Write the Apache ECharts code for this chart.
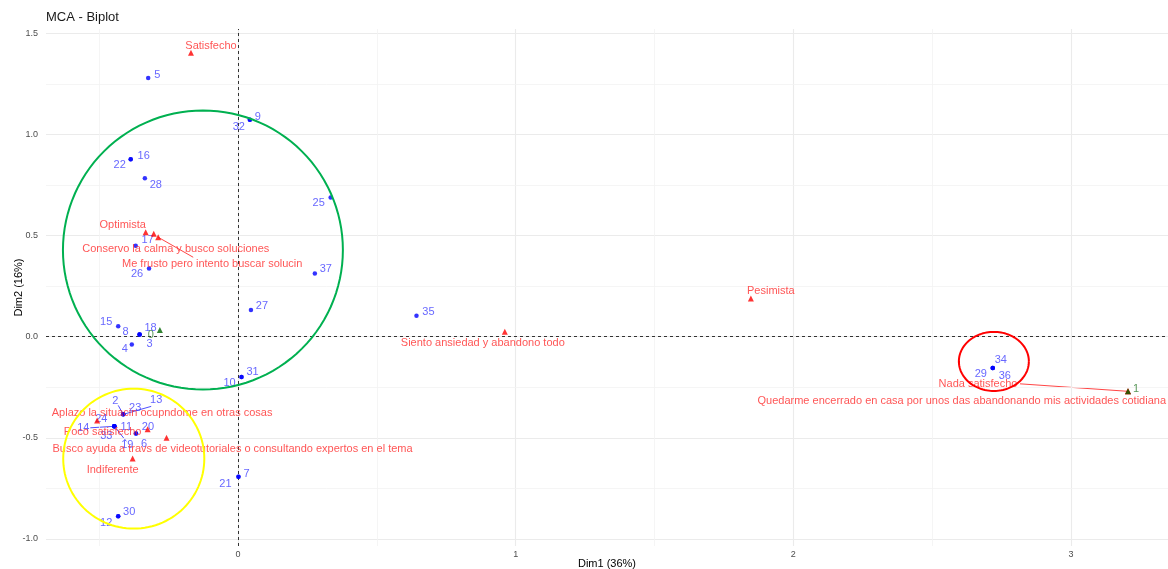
<!DOCTYPE html>
<html>
<head>
<meta charset="utf-8">
<script src="https://cdn.jsdelivr.net/npm/echarts@6/dist/echarts.min.js"></script>
<style>
html,body{margin:0;padding:0;background:#fff;}
#chart{width:1168px;height:569px;}
</style>
</head>
<body>
<div id="chart"></div>
<script>
// ---------- DATA ----------
const indLabels = ['5','9','32','16','22','28','25','17','26','37','27','15','8','18','3','4','31','10','35','34','29','36','7','21','12','30','2','23','13','14','11','33','24','19','6','20'];
const indDim1 = [-0.323,0.043,0.043,-0.386,-0.386,-0.335,0.334,-0.368,-0.320,0.277,0.047,-0.431,-0.354,-0.354,-0.354,-0.382,0.013,0.013,0.643,2.718,2.718,2.718,0.002,0.002,-0.431,-0.431,-0.413,-0.413,-0.413,-0.445,-0.445,-0.445,-0.445,-0.445,-0.367,-0.367];
const indDim2 = [1.280,1.073,1.073,0.878,0.878,0.784,0.689,0.450,0.337,0.313,0.132,0.052,0.011,0.011,0.011,-0.038,-0.199,-0.199,0.104,-0.155,-0.155,-0.155,-0.692,-0.692,-0.888,-0.888,-0.384,-0.384,-0.384,-0.443,-0.443,-0.443,-0.443,-0.443,-0.479,-0.479];

const varLabels = ['Satisfecho','Optimista','Conservo la calma y busco soluciones','Me frusto pero intento buscar solucin','Pesimista','Siento ansiedad y abandono todo','Nada satisfecho','Quedarme encerrado en casa por unos das abandonando mis actividades cotidiana','Aplazo la situacin ocupndome en otras cosas','Poco satisfecho','Busco ayuda a travs de videotutoriales o consultando expertos en el tema','Indiferente'];
const varDim1 = [-0.169,-0.332,-0.303,-0.287,1.847,0.961,3.205,3.205,-0.507,-0.325,-0.257,-0.379];
const varDim2 = [1.404,0.517,0.509,0.492,0.189,0.025,-0.270,-0.270,-0.414,-0.458,-0.499,-0.602];

const supLabels = ['0','1'];
const supDim1 = [-0.281,3.205];
const supDim2 = [0.033,-0.270];

const ringCX = [-0.126,-0.375,2.722];
const ringCY = [0.429,-0.603,-0.122];
const ringRX = [0.504,0.254,0.126];
const ringRY = [0.690,0.346,0.146];

const xTicks = [0,1,2,3];
const yTicks = [-1,-0.5,0,0.5,1,1.5];
const xMinor = [-0.5,0.5,1.5,2.5];
const yMinor = [-0.75,-0.25,0.25,0.75,1.25];

// ---------- STYLE (label offsets / guide ends in px, colours) ----------
const indOffsets = {'5':[9,-3],'9':[8,-3],'32':[-11,7],'16':[13,-3],'22':[-11,6],'28':[11,7],'25':[-12,6],'17':[12,-6],'26':[-12,5],'37':[11,-4],'27':[11,-4],'15':[-12,-4],'8':[-14,-3],'18':[11,-7],'3':[10,9],'4':[-7,5],'31':[11,-5],'10':[-12,6],'35':[12,-4],'34':[8,-8],'29':[-12,6],'36':[12,8],'7':[8,-3],'21':[-13,7],'30':[11,-4],'12':[-12,7],'2':[-8,-13],'23':[12,-6],'13':[33,-14],'14':[-31,2],'11':[12,1],'33':[-8,10],'24':[-13,-7],'19':[13,19],'6':[8,10],'20':[12,-7]};
const indGuideEnds = {'2':[-5,-9],'13':[28,-8],'14':[-24,1.5],'19':[12,15]};
const varOffsets = [[20,-7],[-23,-7],[22,15],[54,27],[20,-8],[-22,11],[-150,-7],[38,10],[65,-7],[-45,3],[66,11],[-20,12]];
const varAlign = {7:'right'};
const varGuideEnds = {3:[35,20],6:[-108,-7.5]};
const supOffsets = [[-9,5],[8,-2]];
const ringColors = ['#00B050','#FFFF00','#FF0000'];
const FONT = '"Liberation Sans", Arial, sans-serif';

const chart = echarts.init(document.getElementById('chart'));

const indData = indLabels.map((n,i)=>({value:[indDim1[i], indDim2[i]], name:n}));
const varData = varLabels.map((n,i)=>{
  const d = {value:[varDim1[i], varDim2[i]], name:n};
  if (varAlign[i]) d.label = {align: varAlign[i]};
  return d;
});
const supData = supLabels.map((n,i)=>({value:[supDim1[i], supDim2[i]], name:n}));
const ringData = ringCX.map((c,i)=>[c, ringCY[i], ringRX[i], ringRY[i], i]);

// guide segments: point from the data arrays, end offset from style map
const guideRows = [];
indLabels.forEach((n,i)=>{ if (indGuideEnds[n]) guideRows.push({value:[indDim1[i], indDim2[i]], end:indGuideEnds[n], color:'#3b3bff'}); });
varLabels.forEach((n,i)=>{ if (varGuideEnds[i]) guideRows.push({value:[varDim1[i], varDim2[i]], end:varGuideEnds[i], color:'#ff3030'}); });

const gridLines = [];
xTicks.forEach(v=>gridLines.push({xAxis:v, lineStyle:{color:'#ebebeb', width:1.1, type:'solid'}}));
yTicks.forEach(v=>gridLines.push({yAxis:v, lineStyle:{color:'#ebebeb', width:1.1, type:'solid'}}));
xMinor.forEach(v=>gridLines.push({xAxis:v, lineStyle:{color:'#f2f2f2', width:0.8, type:'solid'}}));
yMinor.forEach(v=>gridLines.push({yAxis:v, lineStyle:{color:'#f2f2f2', width:0.8, type:'solid'}}));

function layoutFrom(getOff){
  return function(p){ const o = getOff(p.dataIndex) || [0,0]; return {dx:o[0], dy:o[1]}; };
}

const option = {
  animation:false,
  backgroundColor:'#ffffff',
  title:{text:'MCA - Biplot', left:46, top:11, padding:0, textStyle:{fontSize:13, fontWeight:'normal', color:'#1a1a1a', fontFamily:FONT}},
  grid:{left:46, right:0, top:29, bottom:23, containLabel:false, outerBoundsMode:'none'},
  xAxis:{
    type:'value', min:-0.691, max:3.349,
    name:'Dim1 (36%)', nameLocation:'middle', nameGap:12, nameMoveOverlap:false,
    nameTextStyle:{fontSize:11, color:'#000', fontFamily:FONT},
    axisLine:{show:false},
    axisTick:{show:true, length:3, lineStyle:{color:'#333'}, customValues:xTicks},
    axisLabel:{fontSize:9, color:'#4d4d4d', margin:4, fontFamily:FONT, customValues:xTicks, formatter:v=>String(v)},
    splitLine:{show:false}
  },
  yAxis:{
    type:'value', min:-1.035, max:1.522,
    name:'Dim2 (16%)', nameLocation:'middle', nameGap:22, nameRotate:90, nameMoveOverlap:false,
    nameTextStyle:{fontSize:11, color:'#000', fontFamily:FONT},
    axisLine:{show:false},
    axisTick:{show:true, length:3, lineStyle:{color:'#333'}, customValues:yTicks},
    axisLabel:{fontSize:9, color:'#4d4d4d', margin:8, fontFamily:FONT, customValues:yTicks, formatter:v=>v.toFixed(1)},
    splitLine:{show:false}
  },
  series:[
    {
      type:'scatter', data:[], silent:true, z:1,
      markLine:{silent:true, symbol:['none','none'], label:{show:false}, animation:false, data:gridLines}
    },
    {
      type:'scatter', data:[], silent:true, z:2,
      markLine:{silent:true, symbol:['none','none'], label:{show:false}, animation:false,
        lineStyle:{color:'#333', width:1, type:[3,3]},
        data:[{xAxis:0},{yAxis:0}]}
    },
    {
      type:'custom', z:3, silent:true,
      data:guideRows.map(r=>r.value),
      renderItem:function(params, api){
        const r = guideRows[params.dataIndex];
        const p = api.coord([api.value(0), api.value(1)]);
        return {type:'line', shape:{x1:p[0], y1:p[1], x2:p[0]+r.end[0], y2:p[1]+r.end[1]}, style:{stroke:r.color, lineWidth:0.9}};
      }
    },
    {
      name:'ind', type:'scatter', z:5, symbol:'circle', symbolSize:4.5,
      itemStyle:{color:'#0000FF'},
      data:indData,
      label:{show:true, position:'inside', formatter:'{b}', color:'#4141ff', fontSize:11, fontFamily:FONT},
      labelLayout:layoutFrom(i=>indOffsets[indLabels[i]])
    },
    {
      name:'var', type:'scatter', z:6, symbol:'triangle', symbolSize:6,
      itemStyle:{color:'#FF0000'},
      data:varData,
      label:{show:true, position:'inside', formatter:'{b}', color:'#ff2b2b', fontSize:11, fontFamily:FONT},
      labelLayout:layoutFrom(i=>varOffsets[i])
    },
    {
      name:'sup', type:'scatter', z:7, symbol:'triangle', symbolSize:6,
      itemStyle:{color:'#006400'},
      data:supData,
      label:{show:true, position:'inside', formatter:'{b}', color:'#2e7d2e', fontSize:11, fontFamily:FONT},
      labelLayout:layoutFrom(i=>supOffsets[i])
    },
    {
      type:'custom', z:8, silent:true,
      data:ringData,
      renderItem:function(params, api){
        const c = api.coord([api.value(0), api.value(1)]);
        const s = api.size([api.value(2), api.value(3)]);
        const pts = [];
        for (let k=0;k<=120;k++){
          const t = k/120*Math.PI*2;
          pts.push([c[0]+s[0]*Math.cos(t), c[1]+s[1]*Math.sin(t)]);
        }
        return {type:'polyline', shape:{points:pts}, style:{fill:null, stroke:ringColors[api.value(4)], lineWidth:2}};
      }
    }
  ]
};
chart.setOption(option);
</script>
</body>
</html>
